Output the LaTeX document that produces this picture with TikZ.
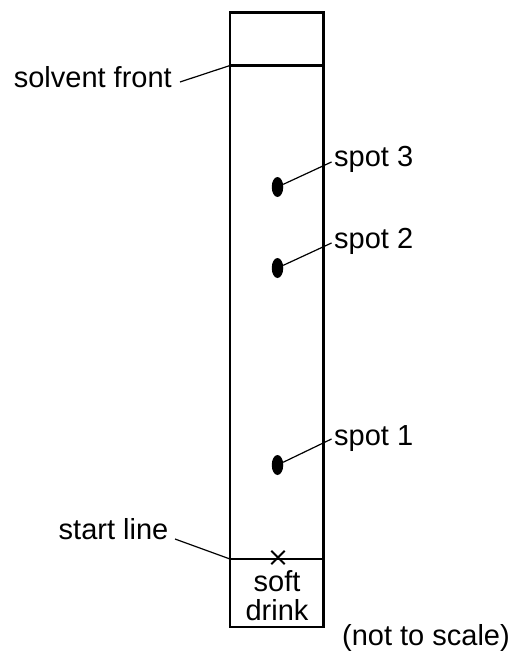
\documentclass[tikz,border=0pt]{standalone}
\usepackage{fontspec}
\setmainfont{Liberation Sans}
\usetikzlibrary{shapes.geometric}
\begin{document}
\begin{tikzpicture}[x=1pt,y=-1pt,
  lbl/.style={inner sep=0pt,font=\fontsize{29}{34}\selectfont},
  boxline/.style={line width=2.5pt,line cap=rect},
  leader/.style={line width=1.2pt},
  spotdot/.style={ellipse,fill=black,draw=none,minimum width=11.5pt,minimum height=20pt,inner sep=0pt}]
\useasboundingbox (0,0) rectangle (515,655);
% strip
\coordinate (tl) at (230,12.5);
\coordinate (br) at (323.5,627);
\draw[boxline] (tl) rectangle (br);
\coordinate (sfL) at (230,65.5);
\coordinate (sfR) at (323.5,65.5);
\draw[boxline] (sfL) -- (sfR);
\coordinate (slL) at (230,559);
\coordinate (slR) at (323.5,559);
\draw[boxline] (slL) -- (slR);
% cross
\node[inner sep=0pt,minimum size=13pt] (x) at (278,557.5) {};
\draw[line width=2pt] (x.north west) -- (x.south east);
\draw[line width=2pt] (x.north east) -- (x.south west);
% spots
\node[spotdot] (s3) at (277.5,187) {};
\node[spotdot] (s2) at (277.5,268) {};
\node[spotdot] (s1) at (277.5,465) {};
% labels
\node[lbl,anchor=base west] (t3) at (334,167) {spot 3};
\node[lbl,anchor=base west] (t2) at (334,248) {spot 2};
\node[lbl,anchor=base west] (t1) at (334,445) {spot 1};
\coordinate (e3) at (331.5,162);
\coordinate (e2) at (331.5,243);
\coordinate (e1) at (331.5,439);
\draw[leader] (s3) -- (e3);
\draw[leader] (s2) -- (e2);
\draw[leader] (s1) -- (e1);
\node[lbl,anchor=base east] (tsf) at (172,87.5) {solvent front};
\coordinate (esf) at (180,82);
\draw[leader] (esf) -- (sfL);
\node[lbl,anchor=base east] (tsl) at (168.5,539) {start line};
\coordinate (esl) at (175,539);
\draw[leader] (esl) -- (slL);
\node[lbl,anchor=base] (soft) at (277,591.5) {soft};
\node[lbl,anchor=base] (drink) at (277,620) {drink};
\node[lbl,anchor=base east] (nts) at (510,645) {(not to scale)};
\end{tikzpicture}
\end{document}
